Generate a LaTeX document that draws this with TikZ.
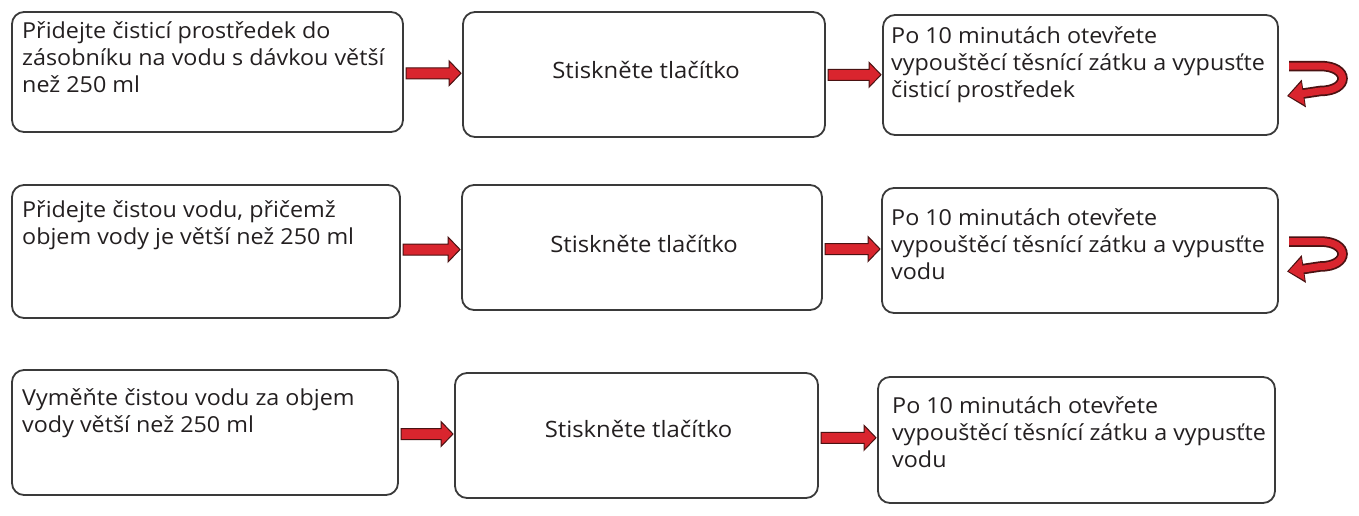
\documentclass[tikz,border=0pt]{standalone}
\usepackage{fontspec}
\setmainfont[FakeStretch=1.06]{Open Sans}
\usetikzlibrary{calc,arrows.meta}
\definecolor{boxline}{HTML}{3A3A3A}
\definecolor{txtcol}{HTML}{231F20}
\definecolor{arrred}{HTML}{D9252E}
\definecolor{arrdark}{HTML}{4A1212}
\tikzset{
  box/.style={draw=boxline, line width=1.8pt, rounded corners=12pt, inner sep=0pt, outer sep=0pt, anchor=north west, fill=white},
  txt/.style={inner sep=0pt, anchor=base west, text=txtcol, font=\fontsize{22}{27}\selectfont},
  midtxt/.style={inner sep=0pt, anchor=base, text=txtcol, font=\fontsize{22.5}{27}\selectfont},
  blockarr/.style={fill=arrred, draw=arrdark, line width=1pt, line join=miter},
  curlout/.style={draw=arrdark, line width=10.5pt, -{Triangle[length=17pt,width=27pt]}},
  curlin/.style={draw=arrred, line width=7pt, shorten >=1.6pt, -{Triangle[length=14.5pt,width=22pt]}}
}
\newcommand\blockarrow[2]{%
  \path let \p1=(#1.east), \p2=(#2.west), \p3=($(#1.east)!0.5!(#2.west)$) in
    [blockarr] ({\x1+3pt},{\y3+5.5pt}) -- ({\x2-14pt},{\y3+5.5pt}) -- ({\x2-14pt},{\y3+12.5pt})
    -- ({\x2-2pt},{\y3}) -- ({\x2-14pt},{\y3-12.5pt}) -- ({\x2-14pt},{\y3-5.5pt})
    -- ({\x1+3pt},{\y3-5.5pt}) -- cycle;}
\newcommand\curlarrow[1]{%
  \coordinate (#1s) at ($(#1.east)+(11,-9)$);
  \coordinate (#1a) at ($(#1.east)+(42,-9)$);
  \coordinate (#1b) at ($(#1.east)+(42,16)$);
  \coordinate (#1e) at ($(#1.east)+(9,21)$);
  \draw[curlout] (#1s) -- (#1a) .. controls ($(#1a)+(30,0)$) and ($(#1b)+(30,0)$) .. (#1b) -- (#1e);
  \draw[curlin] (#1s) -- (#1a) .. controls ($(#1a)+(30,0)$) and ($(#1b)+(30,0)$) .. (#1b) -- (#1e);}
\begin{document}
\begin{tikzpicture}[x=1pt,y=-1pt]
\useasboundingbox[fill=white] (0,0) rectangle (1359,515);
% row 1
\node[box, minimum width=391pt, minimum height=120pt] (a1) at (12,12) {};
\node[box, minimum width=362pt, minimum height=125pt] (b1) at (463,12) {};
\node[box, minimum width=395pt, minimum height=120pt] (c1) at (883,15) {};
% row 2
\node[box, minimum width=388pt, minimum height=133pt] (a2) at (12,185) {};
\node[box, minimum width=360pt, minimum height=125pt] (b2) at (462,185) {};
\node[box, minimum width=396pt, minimum height=125pt] (c2) at (882,188) {};
% row 3
\node[box, minimum width=386pt, minimum height=125pt] (a3) at (12,370) {};
\node[box, minimum width=363pt, minimum height=125pt] (b3) at (455,373) {};
\node[box, minimum width=397pt, minimum height=126pt] (c3) at (878,377) {};
% texts
\node[txt] (a1t) at ($(a1.north west)+(10,26)$) {\parbox[t]{380pt}{Přidejte čisticí prostředek do\\zásobníku na vodu s dávkou větší\\než 250 ml}};
\node[midtxt] (b1t) at ($(b1.north)+(2,66)$) {Stiskněte tlačítko};
\node[txt] (c1t) at ($(c1.north west)+(8,28)$) {\parbox[t]{385pt}{Po 10 minutách otevřete\\vypouštěcí těsnící zátku a vypusťte\\čisticí prostředek}};
\node[txt] (a2t) at ($(a2.north west)+(10,32)$) {\parbox[t]{380pt}{Přidejte čistou vodu, přičemž\\objem vody je větší než 250 ml}};
\node[midtxt] (b2t) at ($(b2.north)+(2,67)$) {Stiskněte tlačítko};
\node[txt] (c2t) at ($(c2.north west)+(9,37)$) {\parbox[t]{385pt}{Po 10 minutách otevřete\\vypouštěcí těsnící zátku a vypusťte\\vodu}};
\node[txt] (a3t) at ($(a3.north west)+(10,35)$) {\parbox[t]{380pt}{Vyměňte čistou vodu za objem\\vody větší než 250 ml}};
\node[midtxt] (b3t) at ($(b3.north)+(2,64)$) {Stiskněte tlačítko};
\node[txt] (c3t) at ($(c3.north west)+(14,36)$) {\parbox[t]{385pt}{Po 10 minutách otevřete\\vypouštěcí těsnící zátku a vypusťte\\vodu}};
% arrows
\blockarrow{a1}{b1}
\blockarrow{b1}{c1}
\blockarrow{a2}{b2}
\blockarrow{b2}{c2}
\blockarrow{a3}{b3}
\blockarrow{b3}{c3}
\curlarrow{c1}
\curlarrow{c2}
\end{tikzpicture}
\end{document}
